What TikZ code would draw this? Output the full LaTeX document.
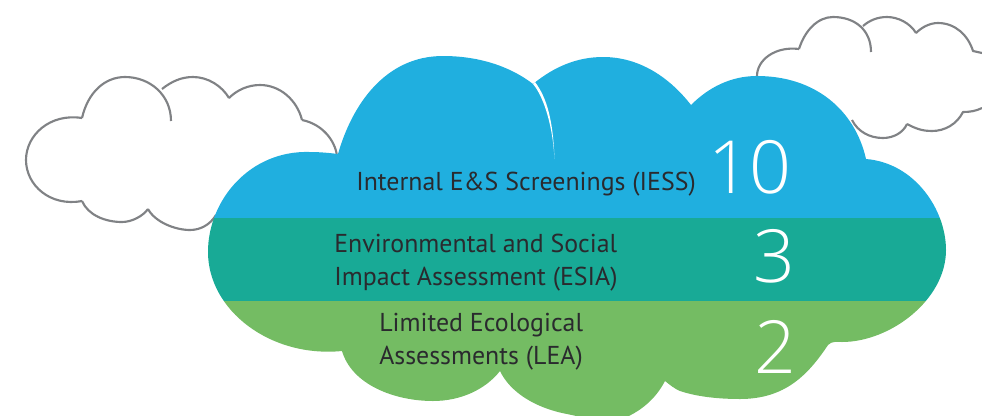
\documentclass[tikz,border=0pt]{standalone}
\usepackage{fontspec}
\setmainfont{PT Sans}
\newfontfamily\thinfont[UprightFont={* Light}]{Open Sans}
\definecolor{cblue}{HTML}{20AFDF}
\definecolor{cteal}{HTML}{18AA96}
\definecolor{cgreen}{HTML}{74BC63}
\definecolor{cgrey}{HTML}{808285}
\definecolor{cink}{HTML}{2A2A2E}
\newcommand{\mainoutline}{
 (338,154) .. controls (352,105) and (385,56) .. (443,56) .. controls (485,56) and (515,70) .. (533,84)
 .. controls (555,66) and (578,57) .. (603,57) .. controls (640,57) and (670,78) .. (691,105)
 .. controls (708,88) and (730,76) .. (757,76) .. controls (815,76) and (855,110) .. (866,159)
 .. controls (915,163) and (946,210) .. (946,250) .. controls (946,300) and (890,342) .. (842,342)
 .. controls (836,342) and (832,341) .. (828,345)
 .. controls (808,375) and (785,399) .. (740,399) .. controls (715,399) and (695,396) .. (680,391)
 .. controls (675,389) and (670,385) .. (665,381)
 .. controls (655,400) and (640,412) .. (620,420) -- (595,420) -- (567,414)
 .. controls (535,408) and (510,392) .. (500,371)
 .. controls (485,390) and (460,401) .. (433,401) .. controls (395,401) and (352,385) .. (342,351)
 .. controls (270,358) and (208,310) .. (208,252) .. controls (208,200) and (250,150) .. (310,152)
 .. controls (320,152) and (330,153) .. (338,154) -- cycle}
\tikzset{
 outline/.style={draw=cgrey,line width=1.6pt,line join=round,line cap=butt},
 label/.style={anchor=base west,inner sep=0pt,text=cink,font=\fontsize{19.4}{22}\selectfont},
 digit/.style={anchor=base east,inner sep=0pt,text=white,font=\thinfont\fontsize{55}{60}\selectfont}
}
\begin{document}
\begin{tikzpicture}[x=.75pt,y=-.75pt]
\useasboundingbox (0,0) rectangle (982,415);
% left cloud
\draw[outline] (82,118) .. controls (88,92) and (105,77) .. (125,77) .. controls (150,77) and (171,95) .. (171,121);
\draw[outline] (162,89) .. controls (172,81) and (182,77) .. (193,77) .. controls (208,77) and (222,86) .. (229,98);
\draw[outline] (229,98) .. controls (237,90) and (248,85) .. (260,85) .. controls (280,85) and (297,100) .. (302,120);
\draw[outline] (302,120) .. controls (322,124) and (335,140) .. (337,156);
\draw[outline] (82,118) .. controls (50,113) and (26,135) .. (26,160) .. controls (26,185) and (50,207) .. (82,201);
\draw[outline] (82,201) .. controls (88,215) and (105,222) .. (122,222) .. controls (132,222) and (143,216) .. (148,209);
\draw[outline] (148,209) .. controls (155,222) and (175,230) .. (190,230) .. controls (200,230) and (210,225) .. (216,215);
% right cloud
\draw[outline] (799,49) .. controls (805,30) and (818,17) .. (833,17) .. controls (855,17) and (871,30) .. (871,52);
\draw[outline] (863,26) .. controls (870,20) and (878,17) .. (887,17) .. controls (898,17) and (910,23) .. (916,33);
\draw[outline] (916,33) .. controls (922,27) and (930,23) .. (938,23) .. controls (955,23) and (968,35) .. (973,51) -- (982,53);
\draw[outline] (799,49) .. controls (775,46) and (757,60) .. (757,76);
\draw[outline] (852,120) .. controls (858,132) and (870,138) .. (883,138) .. controls (893,138) and (903,133) .. (907,124);
\draw[outline] (907,124) .. controls (918,130) and (925,131) .. (932,131) .. controls (945,131) and (957,124) .. (963,112) .. controls (970,112) and (976,111) .. (982,108);
% main cloud
\begin{scope}
\clip \mainoutline;
\fill[cblue] (190,40) rectangle (960,217.5);
\fill[cteal] (190,217.5) rectangle (960,301);
\fill[cgreen] (190,301) rectangle (960,430);
\end{scope}
\fill[white] (533,84) .. controls (544,97) and (553,127) .. (554.5,159) .. controls (553,120) and (547,98) .. (535,82) -- cycle;
% labels
\node[label] (iess) at (356,190) {Internal E\&S Screenings (IESS)};
\node[label] (esiaa) at (334,252) {Environmental and Social};
\node[label] (esiab) at (334,285) {Impact Assessment (ESIA)};
\node[label] (leaa) at (379,331) {Limited Ecological};
\node[label] (leab) at (379,364) {Assessments (LEA)};
\node[digit] (nten) at (792,193) {10};
\node[digit] (nthree) at (796,282) {3};
\node[digit] (ntwo) at (797,373) {2};
\end{tikzpicture}
\end{document}
